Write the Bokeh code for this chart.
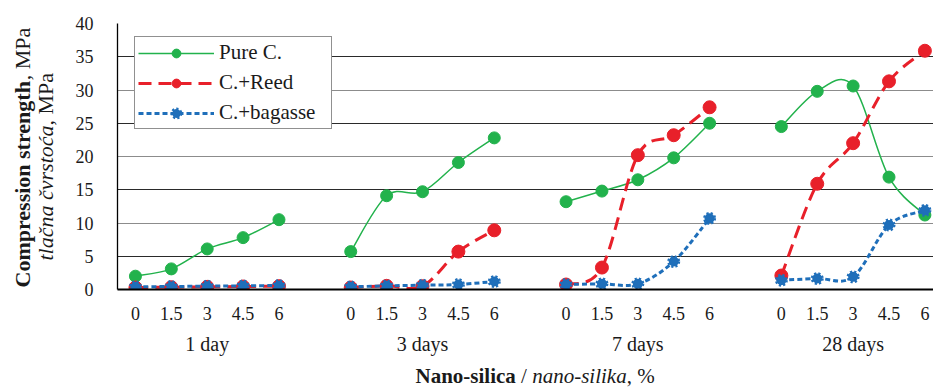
from math import pi
from bokeh.plotting import figure
from bokeh.layouts import row, column
from bokeh.models import (Range1d, FixedTicker, Grid, Label, Legend, LegendItem,
                          ColumnDataSource, LinearAxis)
from bokeh.embed import file_html
from bokeh.resources import INLINE

# ---------------- data ----------------
days = ["1 day", "3 days", "7 days", "28 days"]
silica = ["0", "1.5", "3", "4.5", "6"]

pure_c = [
    [2.0, 3.1, 6.1, 7.8, 10.5],
    [5.7, 14.1, 14.7, 19.1, 22.8],
    [13.2, 14.8, 16.5, 19.8, 25.0],
    [24.5, 29.8, 30.6, 16.9, 11.2],
]
c_reed = [
    [0.3, 0.35, 0.4, 0.45, 0.5],
    [0.3, 0.55, 0.5, 5.7, 8.9],
    [0.75, 3.3, 20.2, 23.2, 27.4],
    [2.1, 15.9, 22.0, 31.3, 35.9],
]
c_bagasse = [
    [0.4, 0.45, 0.5, 0.55, 0.6],
    [0.4, 0.55, 0.65, 0.75, 1.2],
    [0.75, 0.85, 0.85, 4.2, 10.7],
    [1.4, 1.65, 1.9, 9.7, 11.9],
]
y_ticks = [0, 5, 10, 15, 20, 25, 30, 35, 40]

series_names = ["Pure C.", "C.+Reed", "C.+bagasse"]
series_data = [pure_c, c_reed, c_bagasse]
colors = ["#22b24c", "#e8202a", "#1f6fba"]

SERIF = "'Liberation Serif'"
TXT = "#1a1a1a"
GROUP_STEP = len(silica) + 1

def xpos(g, j):
    return g * GROUP_STEP + j

LEFT_W = 60
MAIN_W = 933 - LEFT_W
MAIN_H = 364
BOT_H = 387 - MAIN_H
FRAME_LEFT = 117

# --------------- main figure ----------------
p = figure(width=MAIN_W, height=MAIN_H, output_backend="svg", toolbar_location=None,
           title=None,
           x_range=Range1d(-0.5, 22.24), y_range=Range1d(0, 40),
           min_border_left=FRAME_LEFT - LEFT_W, min_border_right=0, min_border_top=23,
           min_border_bottom=MAIN_H - 289)
p.outline_line_color = None
p.xgrid.visible = False
p.ygrid.visible = False

p.add_layout(Grid(dimension=1, ticker=FixedTicker(ticks=[10, 20, 30, 40]),
                  grid_line_color="#8c8c8c", grid_line_width=1.2))
p.add_layout(Grid(dimension=1, ticker=FixedTicker(ticks=[5, 15, 25, 35]),
                  grid_line_color="#2a2a2a", grid_line_width=1))

# y axis
p.yaxis.ticker = FixedTicker(ticks=y_ticks)
p.yaxis.axis_line_color = "black"
p.yaxis.axis_line_width = 1.3
p.yaxis.major_tick_line_color = None
p.yaxis.minor_tick_line_color = None
p.yaxis.major_label_text_font = SERIF
p.yaxis.major_label_text_font_size = "18px"
p.yaxis.major_label_text_color = TXT
p.yaxis.major_label_standoff = 18

# x axis (silica percentages)
xt = [xpos(g, j) for g in range(len(days)) for j in range(len(silica))]
p.xaxis.ticker = FixedTicker(ticks=xt)
p.xaxis.major_label_overrides = {xpos(g, j): silica[j]
                                 for g in range(len(days)) for j in range(len(silica))}
p.xaxis.axis_line_color = "black"
p.xaxis.axis_line_width = 2.2
p.xaxis.major_tick_line_color = None
p.xaxis.minor_tick_line_color = None
p.xaxis.major_label_text_font = SERIF
p.xaxis.major_label_text_font_size = "18px"
p.xaxis.major_label_text_color = TXT
p.xaxis.major_label_standoff = 11

# second x axis (curing age groups)
gx = [xpos(g, 2) for g in range(len(days))]
ax2 = LinearAxis(ticker=FixedTicker(ticks=gx),
                 major_label_overrides={xpos(g, 2): d for g, d in enumerate(days)},
                 axis_line_color=None, major_tick_line_color=None,
                 minor_tick_line_color=None, major_label_standoff=4,
                 major_label_text_font=SERIF, major_label_text_font_size="20px",
                 major_label_text_color=TXT)
p.add_layout(ax2, "below")

# --------------- smoothed series ----------------
dashes = ["solid", "13 7", "5 3"]
widths = [1.5, 3, 3]
legend_items = []
for name, data, col, dash, lw in zip(series_names, series_data, colors, dashes, widths):
    seg = dict(x0=[], y0=[], x1=[], y1=[], cx0=[], cy0=[], cx1=[], cy1=[])
    px, py = [], []
    for g, vals in enumerate(data):
        xs = [xpos(g, j) for j in range(len(vals))]
        n = len(vals)
        for i in range(n - 1):
            im1 = max(i - 1, 0)
            ip2 = min(i + 2, n - 1)
            seg["x0"].append(xs[i]); seg["y0"].append(vals[i])
            seg["x1"].append(xs[i + 1]); seg["y1"].append(vals[i + 1])
            seg["cx0"].append(xs[i] + (xs[i + 1] - xs[im1]) / 6)
            seg["cy0"].append(vals[i] + (vals[i + 1] - vals[im1]) / 6)
            seg["cx1"].append(xs[i + 1] - (xs[ip2] - xs[i]) / 6)
            seg["cy1"].append(vals[i + 1] - (vals[ip2] - vals[i]) / 6)
        px += xs
        py += vals
    r_line = p.bezier(x0="x0", y0="y0", x1="x1", y1="y1", cx0="cx0", cy0="cy0",
                      cx1="cx1", cy1="cy1", source=ColumnDataSource(seg),
                      line_color=col, line_width=lw, line_dash=dash)
    if name == "C.+bagasse":
        r_pts = p.scatter(px, py, marker="circle", size=10, fill_color=col,
                          line_color=col, line_width=3, line_dash="2 2")
    elif name == "C.+Reed":
        r_pts = p.scatter(px, py, marker="circle", size=13, fill_color=col,
                          line_color=col, line_width=1)
    else:
        r_pts = p.scatter(px, py, marker="circle", size=12, fill_color=col,
                          line_color=col, line_width=1)
    legend_items.append(LegendItem(label=name, renderers=[r_line, r_pts]))

legend = Legend(items=legend_items, location=(17, 160), margin=0, padding=3,
                spacing=5, glyph_width=76, glyph_height=22, label_height=22,
                label_width=109, label_standoff=5,
                label_text_font=SERIF, label_text_font_size="21px",
                label_text_color=TXT,
                border_line_color="#222222", border_line_width=1.2,
                background_fill_color="white", background_fill_alpha=1.0)
p.add_layout(legend, "center")

# --------------- helper figures for mixed-style titles ----------------
def blank(w, h):
    f = figure(width=w, height=h, output_backend="svg", toolbar_location=None,
               title=None,
               x_range=Range1d(0, 1), y_range=Range1d(0, 1),
               x_axis_type=None, y_axis_type=None,
               min_border_left=0, min_border_right=0, min_border_top=0,
               min_border_bottom=0)
    f.outline_line_color = None
    f.xgrid.visible = False
    f.ygrid.visible = False
    return f

# y title (two lines, mixed styles), rotated
left = blank(LEFT_W, 387)
fy = 22
ylines = [
    (22, 387 - 287, [("Compression strength", "bold", 9.416), (", MPa", "normal", 2.389)]),
    (45, 387 - 260, [("tla\u010dna \u010dvrsto\u0107a", "italic", 6.138), (", MPa", "normal", 2.389)]),
]
for lx, ly, rr in ylines:
    cy = ly
    for txt, style, em in rr:
        left.add_layout(Label(x=lx, y=cy, x_units="screen", y_units="screen", text=txt,
                              angle=pi / 2, text_align="left", text_baseline="middle",
                              text_font=SERIF, text_font_size=f"{fy}px",
                              text_font_style=style, text_color=TXT))
        cy += em * fy

# x title (mixed styles); the frame of this strip is aligned with the main frame
bottom = blank(MAIN_W, BOT_H)
fs = 21
cx = 415 - FRAME_LEFT
runs = [("Nano-silica", "bold", 4.778 + 0.25), ("/", "normal", 0.278 + 0.25),
        ("nano-silika", "italic", 4.5), (", %", "normal", 1.333)]
for txt, style, em in runs:
    bottom.add_layout(Label(x=cx, y=12, x_units="screen", y_units="screen",
                            text=txt, text_align="left", text_baseline="alphabetic",
                            text_font=SERIF, text_font_size=f"{fs}px",
                            text_font_style=style, text_color=TXT))
    cx += em * fs

layout = row(left, column(p, bottom, spacing=0), spacing=0)
open("out.html", "w").write(file_html(layout, INLINE))
